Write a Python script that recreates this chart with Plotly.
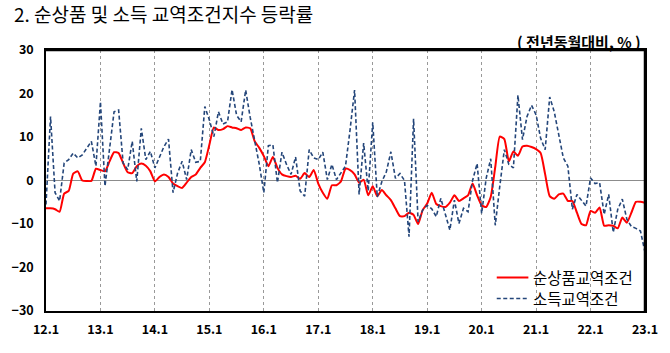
import plotly.graph_objects as go

# month index 0 = 2012.1 ... 132 = 2023.1
months = list(range(133))
tick_vals = [0, 12, 24, 36, 48, 60, 72, 84, 96, 108, 120, 132]
tick_labels = ["12.1", "13.1", "14.1", "15.1", "16.1", "17.1", "18.1",
               "19.1", "20.1", "21.1", "22.1", "23.1"]
series_names = ["순상품교역조건", "소득교역조건"]

net_tot = [
    -6.4, -6.4, -6.6, -7.2, -3.0, -2.4, 1.6, 2.1, 0.0, -0.1, -0.1, 2.7,
    2.4, 2.1, 4.4, 6.5, 6.3, 4.0, 1.9, 1.7, 3.3, 3.9, 3.4, 2.1,
    -0.2, 0.8, 1.4, 0.8, -0.7, -1.3, -1.7, -0.5, 0.8, 1.4, 2.9, 4.2,
    8.2, 12.2, 11.6, 11.8, 12.5, 12.2, 12.0, 11.6, 12.2, 12.0, 9.0, 7.5,
    5.6, 3.3, 5.4, 2.9, 1.4, 1.0, 0.8, 1.1, 0.4, 1.7, 0.8, 2.4,
    -0.7, -2.8, -4.2, -1.1, -1.1, -0.2, 2.7, 2.4, 1.4, -0.5, 0.2, -3.4,
    -1.3, -3.6, -2.2, -3.4, -4.5, -6.4, -8.2, -8.2, -7.4, -7.9, -10.0, -6.8,
    -5.3, -2.8, -5.4, -5.9, -6.1, -5.1, -3.4, -4.7, -4.1, -3.4, -0.7, -3.4,
    -5.7, -6.1, -3.8, 3.1, 10.1, 9.5, 4.4, 6.7, 5.7, 7.8, 8.0, 7.7,
    7.2, 6.3, 1.4, -3.6, -4.2, -3.2, -3.0, -4.7, -4.7, -7.4, -10.0, -10.3,
    -7.0, -7.4, -6.2, -10.4, -10.3, -10.4, -11.0, -8.5, -9.7, -7.4, -4.9, -4.9,
    -5.1,
]

income_tot = [
    -5.5, 14.7, -2.8, -4.7, 4.0, 4.8, 6.3, 5.2, 5.9, 7.5, 9.0, 3.3,
    18.1, -1.3, 7.1, 15.8, 16.2, 4.0, 2.5, 9.0, -0.2, 12.0, 4.8, 6.7,
    2.9, 5.2, 7.8, 9.5, -2.8, 1.7, 4.4, 0.2, 7.1, 4.2, 4.4, 17.0,
    13.9, 10.1, 15.8, 13.0, 13.5, 20.9, 15.0, 13.5, 20.8, 14.5, 9.0, 3.7,
    -2.8, 8.0, 8.2, -0.5, 6.5, 3.7, 1.4, 5.4, -2.4, -3.6, 7.1, 5.2,
    4.8, 6.5, 0.2, 3.7, 0.2, 1.7, 3.3, 11.6, 20.8, -3.2, 8.6, -2.4,
    13.4, -3.8, -0.3, 2.0, 6.6, 0.5, 1.6, 0.0, -12.9, 14.2, -9.5, -6.8,
    -5.7, -6.5, -8.3, -4.1, -7.5, -11.4, -4.5, -9.9, -6.4, -7.2, 0.0, 3.9,
    -7.6, 0.5, 5.0, -10.3, -1.3, 7.1, 3.7, 2.9, 19.6, 9.4, 14.7, 17.3,
    15.1, 9.7, 7.1, 19.2, 15.8, 10.9, 5.2, 3.3, -6.6, -3.2, -4.7, -5.9,
    0.6, -0.7, -0.5, -7.8, -3.2, -11.9, -6.6, -4.3, -8.9, -10.6, -11.0, -11.6,
    -16.5,
]

FONT = "Noto Sans CJK KR"
RED = "#ff0000"
NAVY = "#24467a"
NAVY_DASH = "4px,2.5px"

fig = go.Figure()
fig.add_trace(go.Scatter(
    x=months, y=net_tot, mode="lines", name=series_names[0],
    line=dict(color=RED, width=2, shape="spline", smoothing=0.5),
))
fig.add_trace(go.Scatter(
    x=months, y=income_tot, mode="lines", name=series_names[1],
    line=dict(color=NAVY, width=1.6, dash=NAVY_DASH),
))

fig.update_layout(
    width=670, height=353,
    margin=dict(l=42, r=22, t=50, b=42),
    paper_bgcolor="white", plot_bgcolor="white",
    font=dict(family=FONT, color="black"),
    showlegend=False,
    xaxis=dict(
        range=[0, 132], tickmode="array", tickvals=tick_vals, ticktext=tick_labels,
        showgrid=True, gridcolor="#999999", gridwidth=1, griddash="3px,3px",
        showline=True, linecolor="black", linewidth=1.5, mirror=True,
        ticks="", zeroline=False,
        tickfont=dict(size=12.5, family=FONT, color="black", weight="bold"),
        ticklabelstandoff=6,
    ),
    yaxis=dict(
        range=[-30, 30], dtick=10, tickmode="linear",
        showgrid=False, zeroline=True, zerolinecolor="#8c8c8c", zerolinewidth=1,
        showline=True, linecolor="black", linewidth=1.5, mirror=True,
        ticks="",
        tickfont=dict(size=12.5, family=FONT, color="black", weight="bold"),
        ticklabelstandoff=8,
    ),
)

# thicker top and right frame edges
fig.add_shape(type="line", xref="paper", yref="paper", x0=0, x1=1, y0=1, y1=1,
              line=dict(color="black", width=2.5))
fig.add_shape(type="line", xref="paper", yref="paper", x0=1, x1=1, y0=0, y1=1,
              line=dict(color="black", width=2.5))

# legend (drawn manually to match spacing)
leg_x0, leg_x1, leg_tx = 0.7525, 0.8053, 0.8102
leg_rows = [0.1284, 0.0479]
leg_styles = [dict(color=RED, width=2), dict(color=NAVY, width=1.6, dash=NAVY_DASH)]
for name, yy, st in zip(series_names, leg_rows, leg_styles):
    fig.add_shape(type="line", xref="paper", yref="paper",
                  x0=leg_x0, x1=leg_x1, y0=yy, y1=yy, line=st)
    fig.add_annotation(text=name, xref="paper", yref="paper", x=leg_tx, y=yy,
                       xanchor="left", yanchor="middle", showarrow=False,
                       font=dict(size=15.5, family=FONT, color="black"))

fig.add_annotation(
    text="2. 순상품 및 소득 교역조건지수 등락률", xref="paper", yref="paper",
    x=-0.057, y=1.138, xanchor="left", yanchor="middle", showarrow=False,
    font=dict(size=19, family=FONT, color="black"),
)
fig.add_annotation(
    text="( 전년동월대비, % )", xref="paper", yref="paper",
    x=0.996, y=1.031, xanchor="right", yanchor="middle", showarrow=False,
    font=dict(size=15, family=FONT, color="black", weight="bold"),
)

fig.write_html("out.html")
